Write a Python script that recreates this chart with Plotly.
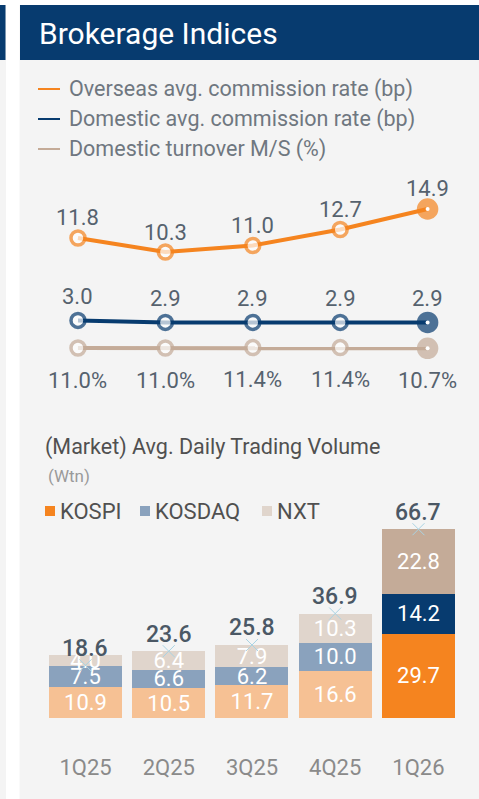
import plotly.graph_objects as go

# ---------------- data ----------------
quarters = ["1Q25", "2Q25", "3Q25", "4Q25", "1Q26"]
overseas_rate = [11.8, 10.3, 11.0, 12.7, 14.9]      # bp
domestic_rate = [3.0, 2.9, 2.9, 2.9, 2.9]           # bp
turnover_ms = [11.0, 11.0, 11.4, 11.4, 10.7]        # %
kospi = [10.9, 10.5, 11.7, 16.6, 29.7]              # Wtn
kosdaq = [7.5, 6.6, 6.2, 10.0, 14.2]
nxt = [4.0, 6.4, 7.9, 10.3, 22.8]
total_labels = [18.6, 23.6, 25.8, 36.9, 66.7]

legend_lines = ["Overseas avg. commission rate (bp)",
                "Domestic avg. commission rate (bp)",
                "Domestic turnover M/S (%)"]
bar_legend = ["KOSPI", "KOSDAQ", "NXT"]

# ---------------- style ----------------
W, H = 479, 799
BG = "#f4f4f4"
NAVY = "#073b6f"
ORANGE = "#f5841f"
TAN = "#c4ab98"
LBL = "#56626e"
FONT = "Roboto"
n = len(quarters)

def px(x):
    return x / W

def py(y):
    return 1 - y / H

fig = go.Figure()
annotations = []

def line_trace(vals, color, yaxis, yshift, fmt):
    sizes = [14] * (n - 1) + [18]
    fills = ["white"] * (n - 1) + [color]
    fig.add_trace(go.Scatter(
        x=quarters, y=vals, xaxis="x", yaxis=yaxis,
        mode="lines+markers",
        line=dict(color=color, width=4),
        marker=dict(size=sizes, color=fills, line=dict(color=color, width=3.5)),
        cliponaxis=False, hoverinfo="skip", showlegend=False))
    fig.add_trace(go.Scatter(
        x=quarters[-1:], y=vals[-1:], xaxis="x", yaxis=yaxis, mode="markers",
        marker=dict(size=4, color="white"), hoverinfo="skip", showlegend=False))
    for q, v in zip(quarters, vals):
        annotations.append(dict(
            x=q, y=v, xref="x", yref=yaxis, text=fmt.format(v), showarrow=False,
            yshift=yshift, xanchor="center", yanchor="middle",
            font=dict(family=FONT, size=22, color=LBL)))

line_trace(overseas_rate, ORANGE, "y", 20, "{:.1f}")
line_trace(domestic_rate, NAVY, "y2", 24, "{:.1f}")
line_trace(turnover_ms, TAN, "y3", -32, "{:.1f}%")

kospi_col = ["#f6c194"] * (n - 1) + [ORANGE]
kosdaq_col = ["#8aa2bd"] * (n - 1) + [NAVY]
nxt_col = ["#e0d5cc"] * (n - 1) + [TAN]
for vals, cols, name in [(kospi, kospi_col, "KOSPI"), (kosdaq, kosdaq_col, "KOSDAQ"),
                         (nxt, nxt_col, "NXT")]:
    fig.add_trace(go.Bar(
        x=quarters, y=vals, xaxis="x2", yaxis="y4", name=name, width=0.877,
        marker=dict(color=cols, line=dict(width=0)),
        text=[f"{v:.1f}" for v in vals], textposition="inside",
        insidetextanchor="middle", textangle=0, constraintext="none",
        insidetextfont=dict(family=FONT, size=22, color="white"),
        hoverinfo="skip", showlegend=False))

fig.add_trace(go.Scatter(
    x=quarters, y=total_labels, xaxis="x2", yaxis="y4", mode="markers",
    marker=dict(symbol="x-thin", size=12, line=dict(color="#a9d3e3", width=1)),
    cliponaxis=False, hoverinfo="skip", showlegend=False))
for q, v in zip(quarters, total_labels):
    annotations.append(dict(
        x=q, y=v, xref="x2", yref="y4", text=f"{v:.1f}", showarrow=False,
        yshift=17, xanchor="center", yanchor="middle",
        font=dict(family=FONT, size=23, color="#4b5865", weight=500)))

shapes = [
    dict(type="rect", xref="paper", yref="paper", x0=0, x1=1, y0=py(5), y1=1,
         fillcolor="white", line=dict(width=0), layer="below"),
    dict(type="rect", xref="paper", yref="paper", x0=px(6), x1=px(19.5), y0=0, y1=1,
         fillcolor="white", line=dict(width=0), layer="below"),
    dict(type="rect", xref="paper", yref="paper", x0=0, x1=px(5.5), y0=py(60), y1=py(5),
         fillcolor=NAVY, line=dict(width=0), layer="below"),
    dict(type="rect", xref="paper", yref="paper", x0=px(20), x1=1, y0=py(60), y1=py(5),
         fillcolor=NAVY, line=dict(width=0), layer="below"),
]
annotations.append(dict(text="Brokerage Indices", x=px(37), y=py(33), xref="paper",
                        yref="paper", xanchor="left", yanchor="middle", showarrow=False,
                        font=dict(family=FONT, size=30, color="white")))
for i, (label, col) in enumerate(zip(legend_lines, [ORANGE, NAVY, TAN])):
    yy = 89 + 30 * i
    shapes.append(dict(type="line", xref="paper", yref="paper", x0=px(38), x1=px(60),
                       y0=py(yy), y1=py(yy), line=dict(color=col, width=2)))
    annotations.append(dict(text=label, x=px(67), y=py(yy), xref="paper", yref="paper",
                            xanchor="left", yanchor="middle", showarrow=False,
                            font=dict(family=FONT, size=21.5, color="#6f7780")))

annotations.append(dict(text="(Market) Avg. Daily Trading Volume", x=px(43), y=py(447),
                        xref="paper", yref="paper", xanchor="left", yanchor="middle",
                        showarrow=False, font=dict(family=FONT, size=21.5, color="#505050")))
annotations.append(dict(text="(Wtn)", x=px(46), y=py(476), xref="paper", yref="paper",
                        xanchor="left", yanchor="middle", showarrow=False,
                        font=dict(family=FONT, size=17, color="#9a9a9a")))
for label, col, x0 in zip(bar_legend, [ORANGE, "#8aa2bd", "#e0d5cc"], [45, 140, 262]):
    shapes.append(dict(type="rect", xref="paper", yref="paper", x0=px(x0), x1=px(x0 + 10),
                       y0=py(516), y1=py(506), fillcolor=col, line=dict(width=0)))
    annotations.append(dict(text=label, x=px(x0 + 13), y=py(511), xref="paper", yref="paper",
                            xanchor="left", yanchor="middle", showarrow=False,
                            font=dict(family=FONT, size=22, color="#505050")))

hidden = dict(visible=False, fixedrange=True)
fig.update_layout(
    width=W, height=H, margin=dict(l=0, r=0, t=0, b=0),
    paper_bgcolor=BG, plot_bgcolor="rgba(0,0,0,0)",
    barmode="stack", showlegend=False,
    shapes=shapes, annotations=annotations,
    xaxis=dict(domain=[0, 1], range=[-0.892, 4.588], type="category",
               categoryorder="array", categoryarray=quarters, visible=False),
    yaxis=dict(domain=[0, 1], range=[-48.2, 37.25], **hidden),
    yaxis2=dict(range=[-20.93, 19.02], overlaying="y", **hidden),
    yaxis3=dict(range=[-440, 359], overlaying="y", **hidden),
    xaxis2=dict(domain=[0, 1], range=[-1.027, 4.727], type="category",
                categoryorder="array", categoryarray=quarters, anchor="y4",
                showgrid=False, zeroline=False, showline=False,
                ticks="outside", ticklen=30, tickcolor="rgba(0,0,0,0)",
                tickfont=dict(family=FONT, size=22, color="#8a8a8a")),
    yaxis4=dict(domain=[py(718), 1], range=[0, 253.7], anchor="x2", **hidden),
)

fig.write_html("out.html", config={"displayModeBar": False, "staticPlot": True},
               post_script="document.body.style.margin='0';document.body.style.overflow='hidden';")
